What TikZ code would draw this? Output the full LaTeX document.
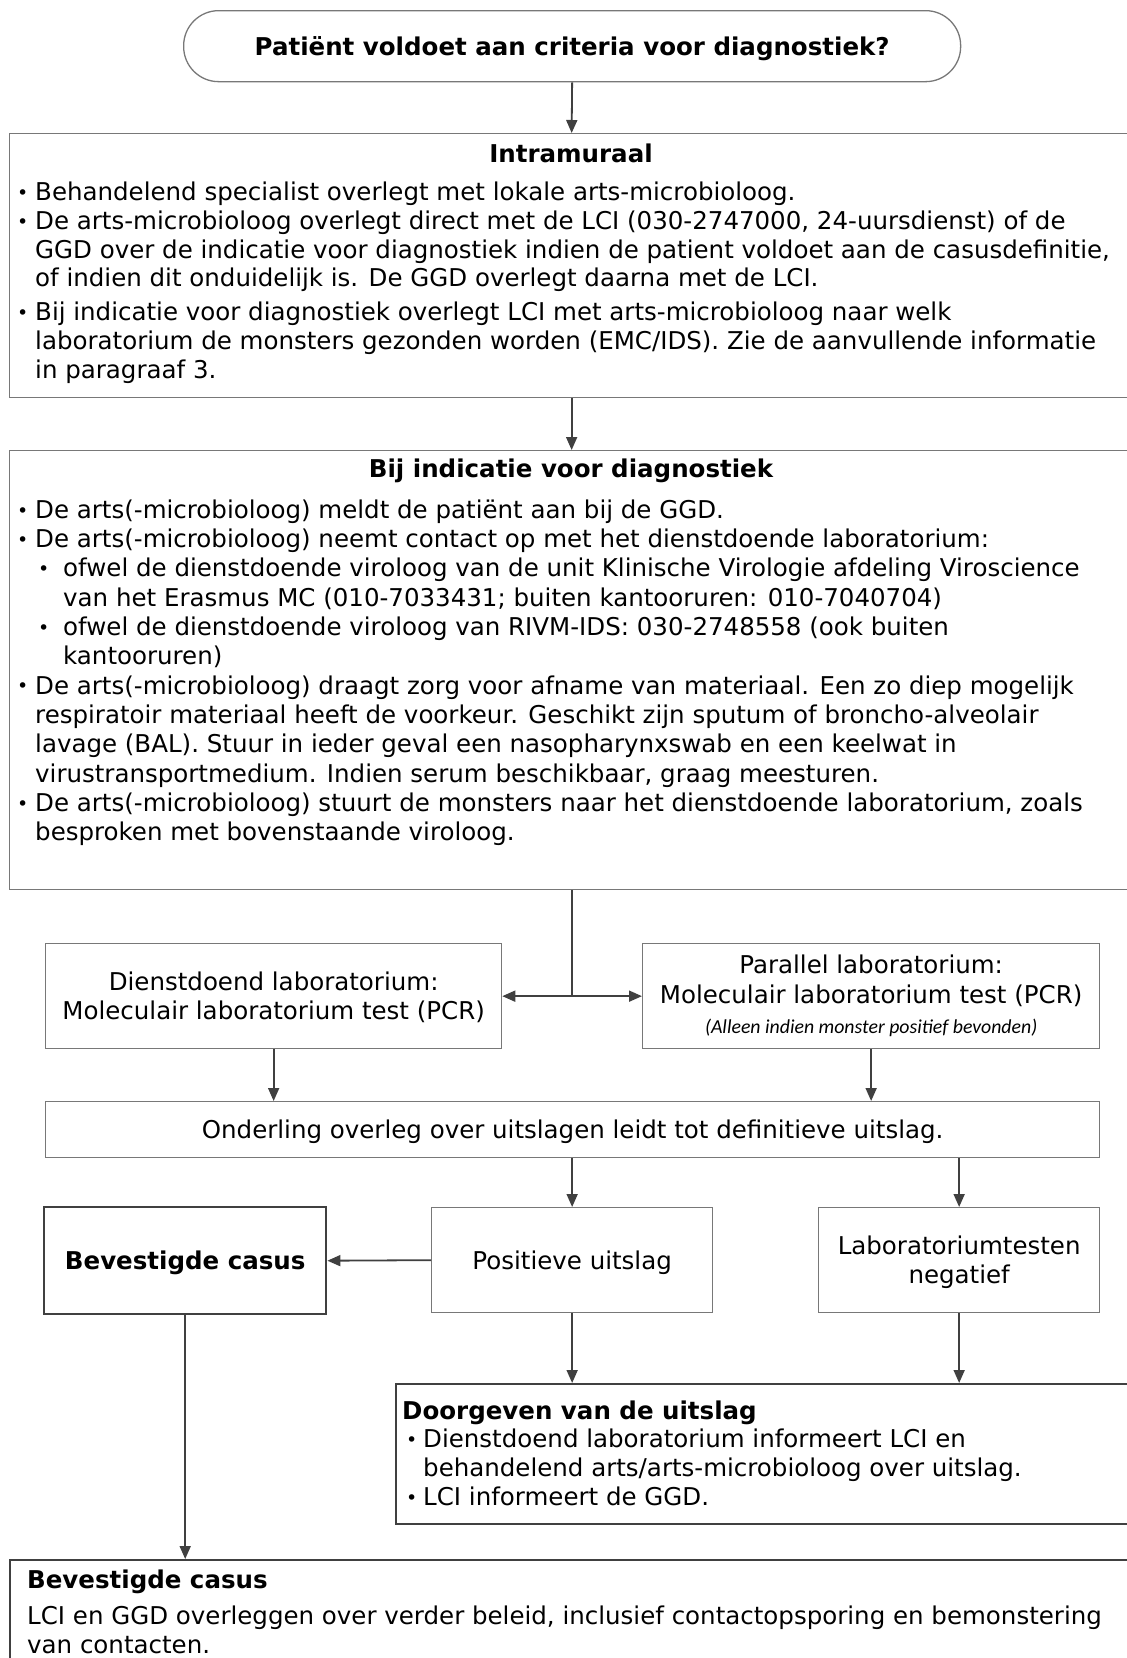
\documentclass[tikz,border=0pt]{standalone}
\usepackage{fontspec}
\setmainfont{DejaVu Sans}
\newfontfamily\calfont{Carlito}
\usetikzlibrary{arrows.meta}
\definecolor{boxgray}{RGB}{120,120,120}
\definecolor{darkline}{RGB}{64,64,64}
\newcommand\fs{\fontsize{24.5}{29}\selectfont}
\newcommand\bulglyph{\hspace*{-2pt}\raisebox{1.2pt}{\fontsize{19}{19}\selectfont •}}
\newcommand\bul{\makebox[16pt][l]{\bulglyph}}
\newcommand\subbul{\hspace*{21pt}\makebox[23pt][l]{\bulglyph}}
\newcommand\dn[2]{\raisebox{-#1}[\height][\depth]{#2}}
\newcommand\stk[1]{\dn{3.5pt}{\begin{tabular}{@{}c@{}}#1\end{tabular}}}
\tikzset{
  thinbox/.style={draw=boxgray,line width=1.3pt,rectangle,inner sep=0pt,anchor=north west,align=center,font=\fs},
  thickbox/.style={draw=darkline,line width=2.4pt,rectangle,inner sep=0pt,anchor=north west,align=center,font=\fs},
  arr/.style={draw=darkline,line width=1.8pt,-{Triangle[length=13pt,width=11pt]}},
  plainline/.style={draw=darkline,line width=1.8pt},
  ttl/.style={inner sep=0pt,font=\fs\bfseries},
  body/.style={anchor=north west,inner sep=0pt,align=left},
}
\begin{document}
\begin{tikzpicture}[x=1pt,y=-1pt]
\useasboundingbox (0,0) rectangle (1127,1658);
\clip (0,0) rectangle (1127,1658);

% terminal
\node[thinbox,rounded corners=35pt,minimum width=777pt,minimum height=71pt,font=\fs\bfseries] (term) at (183,10) {\dn{2.5pt}{Patiënt voldoet aan criteria voor diagnostiek?}};

% Intramuraal
\node[thinbox,minimum width=1124pt,minimum height=264pt] (intra) at (9,133) {};
\node[ttl,anchor=base] (intraT) at (571,162.3) {Intramuraal};
\node[body,font={\fontsize{24.5}{28.7}\selectfont}] (intraB) at (19,180.6) {\strut\bul Behandelend specialist overlegt met lokale arts-microbioloog.\\
\bul De arts-microbioloog overlegt direct met de LCI (030-2747000, 24-uursdienst) of de\\
\hspace*{16pt}GGD over de indicatie voor diagnostiek indien de patient voldoet aan de casusdefinitie,\\
\hspace*{16pt}of indien dit onduidelijk is. De GGD overlegt daarna met de LCI.\\[5.3pt]
\bul Bij indicatie voor diagnostiek overlegt LCI met arts-microbioloog naar welk\\
\hspace*{16pt}laboratorium de monsters gezonden worden (EMC/IDS). Zie de aanvullende informatie\\
\hspace*{16pt}in paragraaf 3.};

% Bij indicatie
\node[thinbox,minimum width=1124pt,minimum height=439pt] (diag) at (9,450) {};
\node[ttl,anchor=base] (diagT) at (571,477.3) {Bij indicatie voor diagnostiek};
\node[body,font={\fontsize{24.5}{29.3}\selectfont}] (diagB) at (19,497.6) {\strut\bul De arts(-microbioloog) meldt de patiënt aan bij de GGD.\\
\bul De arts(-microbioloog) neemt contact op met het dienstdoende laboratorium:\\
\subbul ofwel de dienstdoende viroloog van de unit Klinische Virologie afdeling Viroscience\\
\hspace*{44pt}van het Erasmus MC (010-7033431; buiten kantooruren: 010-7040704)\\
\subbul ofwel de dienstdoende viroloog van RIVM-IDS: 030-2748558 (ook buiten\\
\hspace*{44pt}kantooruren)\\
\bul De arts(-microbioloog) draagt zorg voor afname van materiaal. Een zo diep mogelijk\\
\hspace*{16pt}respiratoir materiaal heeft de voorkeur. Geschikt zijn sputum of broncho-alveolair\\
\hspace*{16pt}lavage (BAL). Stuur in ieder geval een nasopharynxswab en een keelwat in\\
\hspace*{16pt}virustransportmedium. Indien serum beschikbaar, graag meesturen.\\
\bul De arts(-microbioloog) stuurt de monsters naar het dienstdoende laboratorium, zoals\\
\hspace*{16pt}besproken met bovenstaande viroloog.};

% labs
\node[thinbox,minimum width=456pt,minimum height=105pt] (dienst) at (45,943) {\stk{Dienstdoend laboratorium:\\Moleculair laboratorium test (PCR)}};
\node[thinbox,minimum width=457pt,minimum height=105pt] (par) at (642,943) {Parallel laboratorium:\\[1pt]Moleculair laboratorium test (PCR)\\[1pt]{\calfont\itshape\fontsize{19.8}{22}\selectfont (Alleen indien monster positief bevonden)}};
\coordinate (j) at (diag.south |- dienst.east);

% Onderling
\node[thinbox,minimum width=1054pt,minimum height=56pt] (ond) at (45,1101) {\dn{2pt}{Onderling overleg over uitslagen leidt tot definitieve uitslag.}};

% results
\node[thickbox,minimum width=282pt,minimum height=107pt,font=\fs\bfseries] (bev) at (43,1206) {\dn{2pt}{Bevestigde casus}};
\node[thinbox,minimum width=281pt,minimum height=105pt] (pos) at (431,1207) {\dn{3pt}{Positieve uitslag}};
\node[thinbox,minimum width=281pt,minimum height=105pt] (lab) at (818,1207) {\stk{Laboratoriumtesten\\negatief}};

% Doorgeven
\node[thickbox,minimum width=740pt,minimum height=140pt] (door) at (395,1383) {};
\node[ttl,anchor=base west] (doorT) at (402,1419) {Doorgeven van de uitslag};
\node[body,font={\fontsize{24.5}{29}\selectfont}] (doorB) at (408,1427.4) {\strut\makebox[15pt][l]{\bulglyph}Dienstdoend laboratorium informeert LCI en\\
\hspace*{15pt}behandelend arts/arts-microbioloog over uitslag.\\
\makebox[15pt][l]{\bulglyph}LCI informeert de GGD.};

% bottom
\node[thickbox,minimum width=1124pt,minimum height=120pt] (bot) at (9,1559) {};
\node[ttl,anchor=base west] (botT) at (27,1588) {Bevestigde casus};
\node[body,font={\fontsize{24.5}{29}\selectfont}] (botB) at (27,1603.7) {\strut LCI en GGD overleggen over verder beleid, inclusief contactopsporing en bemonstering\\van contacten.};

% connectors
\draw[arr] (term.south) -- (intra.north);
\draw[arr] (intra.south) -- (diag.north);
\draw[plainline] (diag.south) -- (j);
\draw[arr] (j) -- (dienst.east);
\draw[arr] (j) -- (par.west);
\draw[arr] (dienst.south) -- (dienst.south |- ond.north);
\draw[arr] (par.south) -- (par.south |- ond.north);
\draw[arr] (pos.north |- ond.south) -- (pos.north);
\draw[arr] (lab.north |- ond.south) -- (lab.north);
\draw[arr] (pos.west) -- (bev.east);
\draw[arr] (pos.south) -- (pos.south |- door.north);
\draw[arr] (lab.south) -- (lab.south |- door.north);
\draw[arr] (bev.south) -- (bev.south |- bot.north);
\end{tikzpicture}
\end{document}
